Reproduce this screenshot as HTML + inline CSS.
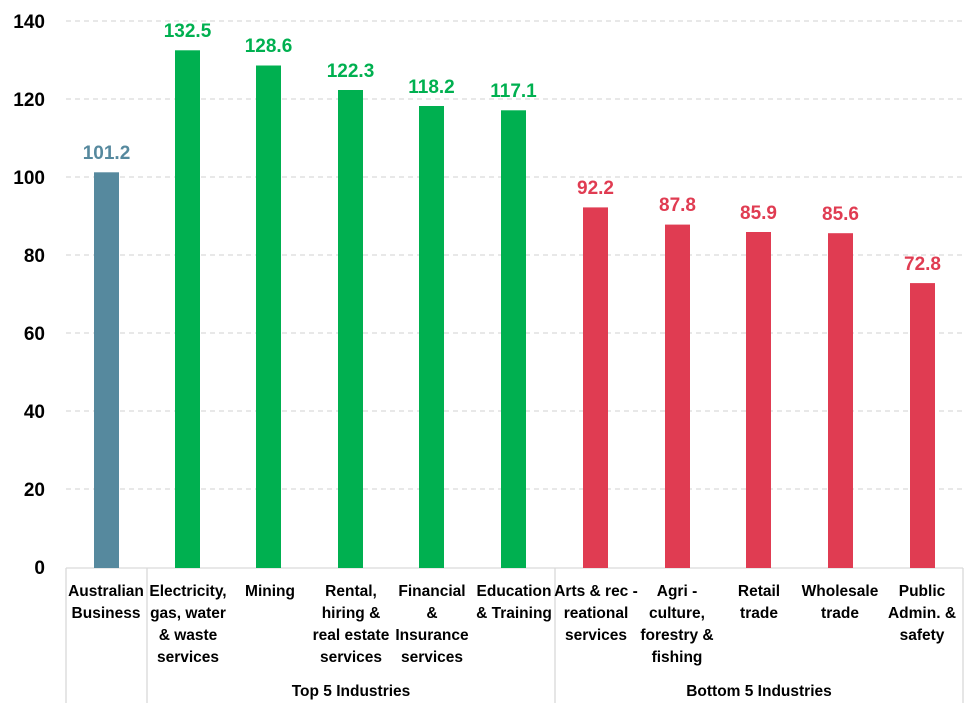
<!DOCTYPE html>
<html><head><style>body{margin:0;background:#fff}svg{display:block}text{font-family:"Liberation Sans",sans-serif;font-weight:bold}</style></head>
<body>
<svg width="979" height="710" xmlns="http://www.w3.org/2000/svg">
<g stroke="#d9d9d9" stroke-width="1.3" stroke-dasharray="5,4">
<line x1="66" x2="963" y1="21" y2="21"/><line x1="66" x2="963" y1="99" y2="99"/><line x1="66" x2="963" y1="177" y2="177"/><line x1="66" x2="963" y1="255" y2="255"/><line x1="66" x2="963" y1="333" y2="333"/><line x1="66" x2="963" y1="411" y2="411"/><line x1="66" x2="963" y1="489" y2="489"/>
</g>
<g font-size="19" text-anchor="end" fill="#000">
<text x="45" y="28">140</text><text x="45" y="106">120</text><text x="45" y="184">100</text><text x="45" y="262">80</text><text x="45" y="340">60</text><text x="45" y="418">40</text><text x="45" y="496">20</text><text x="45" y="574">0</text>
</g>
<g stroke="#d9d9d9" stroke-width="1.3">
<line x1="66" x2="963" y1="568" y2="568"/>
<line x1="66" x2="66" y1="568" y2="703"/><line x1="147" x2="147" y1="568" y2="703"/><line x1="555" x2="555" y1="568" y2="703"/><line x1="963" x2="963" y1="568" y2="703"/>
</g>
<g font-size="19" text-anchor="middle">
<rect x="94" y="172.3" width="25" height="395.7" fill="#56899E"/><text x="106.5" y="159" fill="#56899E">101.2</text>
<g fill="#00B050">
<rect x="175" y="50.3" width="25" height="517.7"/><text x="187.5" y="37">132.5</text>
<rect x="256" y="65.5" width="25" height="502.5"/><text x="268.5" y="52">128.6</text>
<rect x="338" y="90" width="25" height="478"/><text x="350.5" y="77">122.3</text>
<rect x="419" y="106" width="25" height="462"/><text x="431.5" y="93">118.2</text>
<rect x="501" y="110.3" width="25" height="457.7"/><text x="513.5" y="97">117.1</text>
</g>
<g fill="#E03C52">
<rect x="583" y="207.4" width="25" height="360.6"/><text x="595.5" y="194">92.2</text>
<rect x="665" y="224.6" width="25" height="343.4"/><text x="677.5" y="211">87.8</text>
<rect x="746" y="232" width="25" height="336"/><text x="758.5" y="219">85.9</text>
<rect x="828" y="233.2" width="25" height="334.8"/><text x="840.5" y="220">85.6</text>
<rect x="910" y="283.1" width="25" height="284.9"/><text x="922.5" y="270">72.8</text>
</g>
</g>
<g font-size="15.5" text-anchor="middle" fill="#000">
<text x="106" y="596">Australian</text><text x="106" y="618">Business</text>
<text x="188" y="596">Electricity,</text><text x="188" y="618">gas, water</text><text x="188" y="640">&amp; waste</text><text x="188" y="662">services</text>
<text x="270" y="596">Mining</text>
<text x="351" y="596">Rental,</text><text x="351" y="618">hiring &amp;</text><text x="351" y="640">real estate</text><text x="351" y="662">services</text>
<text x="432" y="596">Financial</text><text x="432" y="618">&amp;</text><text x="432" y="640">Insurance</text><text x="432" y="662">services</text>
<text x="514" y="596">Education</text><text x="514" y="618">&amp; Training</text>
<text x="596" y="596">Arts &amp; rec -</text><text x="596" y="618">reational</text><text x="596" y="640">services</text>
<text x="677" y="596">Agri -</text><text x="677" y="618">culture,</text><text x="677" y="640">forestry &amp;</text><text x="677" y="662">fishing</text>
<text x="759" y="596">Retail</text><text x="759" y="618">trade</text>
<text x="840" y="596">Wholesale</text><text x="840" y="618">trade</text>
<text x="922" y="596">Public</text><text x="922" y="618">Admin. &amp;</text><text x="922" y="640">safety</text>
<text x="351" y="696">Top 5 Industries</text>
<text x="759" y="696">Bottom 5 Industries</text>
</g>
</svg>
</body></html>
